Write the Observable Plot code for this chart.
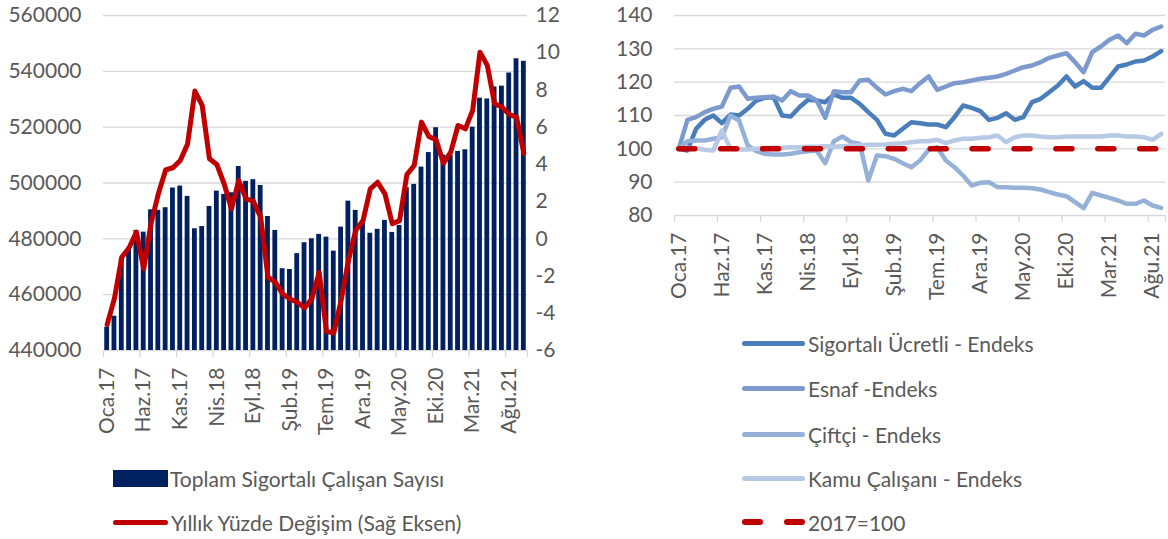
<!DOCTYPE html>
<html><head><meta charset="utf-8">
<script src="https://cdn.jsdelivr.net/npm/d3@7"></script>
<script src="https://cdn.jsdelivr.net/npm/@observablehq/plot@0.6"></script>
<style>
body{margin:0;background:#fff;font-family:Lato,sans-serif;}
#wrap{position:relative;width:1168px;height:539px;overflow:hidden;background:#fff}
.chart{position:absolute;top:0}
.leg{position:absolute;display:flex;align-items:center;height:30px;font-size:21px;color:#595959;white-space:nowrap;font-family:Lato,sans-serif}
.sw{display:inline-block;border-radius:3px}
</style></head><body><div id="wrap"></div>
<script>
// ---------- DATA ----------
const monthNames = ["Oca","Şub","Mar","Nis","May","Haz","Tem","Ağu","Eyl","Eki","Kas","Ara"];
const yearLabels = ["17","18","19","20","21"];
// Left panel: Oca.17 – Eki.21 (58 months)
const totalInsured = [448350,452300,473000,476500,483000,482400,490400,490200,491150,498200,
  498900,495200,483600,484400,491600,497100,495900,496500,505900,500600,
  501200,499100,488000,483000,469300,469000,474700,478600,480000,481600,
  480600,475600,484200,493500,490200,486000,482000,483400,486600,482300,
  484800,498300,499500,505700,510900,519800,510000,509900,511300,511900,
  520000,530400,530100,534400,534700,539400,544500,543600];
const annualChange = [-4.61,-3.2,-0.99,-0.48,0.36,-1.61,0.81,2.42,3.7,3.82,
  4.21,5.1,7.94,7.17,4.3,4.0,2.96,1.61,3.13,2.15,
  2.02,1.16,-2.06,-2.33,-2.96,-3.23,-3.41,-3.71,-3.23,-1.8,
  -4.97,-5.06,-3.32,-1.17,0.45,0.98,2.69,3.04,2.42,0.81,
  0.98,3.45,3.94,6.27,5.5,5.32,4.06,4.66,6.09,5.91,
  6.9,10.03,9.32,7.26,7.08,6.68,6.54,4.6];
// Right panel: Oca.17 – Eyl.21 (57 months), 2017=100
const ucretli = [100,99.5,106,108.7,110,107.7,110.3,110,112,114.5,
  115.3,115.5,110,109.7,112.5,114.7,114.5,114,116.3,115.3,
  115.3,113.5,111,108.7,104.5,104,106,108,107.7,107.3,
  107.3,106.5,109.5,113,112.3,111.3,108.7,109.3,110.7,108.7,
  109.5,114,115,117,119,121.7,118.7,120.3,118.3,118.3,
  121.5,124.7,125.3,126.2,126.5,127.7,129.3];
const esnaf = [100,108.7,109.5,111,112,112.7,118.3,118.7,115,115.3,
  115.5,115.7,114.5,117.3,116,116,114.5,109.3,117.3,117,
  117,120.5,120.7,118.3,116.3,117.3,118,117.3,119.7,121.7,
  117.7,118.7,119.7,120,120.5,121,121.3,121.7,122.5,123.5,
  124.5,125,126,127.3,128,128.7,126,123,129,130.7,
  132.7,134,131.7,134.5,134,135.7,136.7];
const ciftci = [100,102.3,102.5,102.5,103,103.5,110,108.5,101,99.3,
  98.5,98.3,98.3,98.5,99,99.3,99.5,95.7,102.3,103.7,
  102,101.5,90.5,98,97.8,97,95.7,94.5,96.5,99.7,
  100.5,96.5,94.5,92,89,89.8,90,88.5,88.5,88.3,
  88.3,88.2,87.8,87,86.3,85.8,84,82.2,86.8,86,
  85.3,84.5,83.5,83.5,84.5,83,82.3];
const kamu = [100,100.3,100.2,99.7,99.5,105.5,100,99.8,99.8,100,
  100.2,100.3,100.3,100.5,100.5,100.6,100.6,100.8,100.6,100.8,
  101,101,101.2,101.2,101.3,101.5,101.7,102,102.3,102.3,
  102.7,101.7,102.5,103,103,103.3,103.5,104,102,103.5,
  104,104,103.7,103.5,103.5,103.7,103.7,103.7,103.7,103.7,
  104,104,103.7,103.7,103.5,102.7,104.5];
const baseValue = 100;
const leftTicks = [440000,460000,480000,500000,520000,540000,560000];
const rightTicks = [-6,-4,-2,0,2,4,6,8,10,12];
const indexTicks = [80,90,100,110,120,130,140];
const seriesNames = ["Sigortalı Ücretli - Endeks","Esnaf -Endeks","Çiftçi - Endeks","Kamu Çalışanı - Endeks","2017=100"];
const leftNames = ["Toplam Sigortalı Çalışan Sayısı","Yıllık Yüzde Değişim (Sağ Eksen)"];
const colors = {navy:"#002060", red:"#C00000", ucretli:"#4A7EBB", esnaf:"#7C9ACD", ciftci:"#95B1D8", kamu:"#B7C9E5", grid:"#D9D9D9", text:"#595959"};

// ---------- BUILD ----------
const months = [];
for (const y of yearLabels) for (const m of monthNames) months.push(m + "." + y);
const leftRows = totalInsured.map((v,i)=>({i, label: months[i], total: v, pct: annualChange[i]}));
const rightRows = ucretli.map((v,i)=>({i, label: months[i], ucretli: v, esnaf: esnaf[i], ciftci: ciftci[i], kamu: kamu[i], base: baseValue}));
const labelIdx = d3.range(0, 58, 5);
const style = {fontFamily:"Lato, sans-serif", fontSize:"21px", color: colors.text, background:"white", overflow:"visible"};

const yMin = leftTicks[0], yMax = leftTicks[leftTicks.length-1];
const rMin = rightTicks[0], rMax = rightTicks[rightTicks.length-1];
const toLeft = v => yMin + (v - rMin) * (yMax - yMin) / (rMax - rMin);
const fromLeft = v => Math.round(rMin + (v - yMin) * (rMax - rMin) / (yMax - yMin));

const left = Plot.plot({
  width: 590, height: 440,
  marginLeft: 103, marginRight: 63, marginTop: 15, marginBottom: 90,
  style,
  x: {type: "linear", domain: [-0.5, leftRows.length - 0.5]},
  y: {domain: [yMin, yMax]},
  marks: [
    Plot.ruleY(leftTicks, {stroke: colors.grid, strokeWidth: 1.3}),
    Plot.rect(leftRows, {x1: d => d.i - 0.33, x2: d => d.i + 0.33, y1: yMin, y2: "total", fill: colors.navy}),
    Plot.axisX({ticks: [...d3.range(-0.5, leftRows.length - 1, 5), leftRows.length - 0.5], tickSize: 7, tickFormat: () => "", stroke: colors.grid, strokeWidth: 1.3, label: null}),
    Plot.axisX({ticks: labelIdx, tickSize: 0, tickRotate: -90, tickPadding: 17, tickFormat: i => months[i], label: null, fill: colors.text}),
    Plot.axisY({ticks: leftTicks, tickSize: 0, tickPadding: 22, tickFormat: d => String(d), label: null, fill: colors.text}),
    Plot.axisY({anchor: "right", ticks: rightTicks.map(toLeft), tickSize: 0, tickPadding: 8, tickFormat: v => String(fromLeft(v)), label: null, fill: colors.text}),
    Plot.line(leftRows, {x: "i", y: d => toLeft(d.pct), stroke: colors.red, strokeWidth: 5, strokeLinejoin: "round", strokeLinecap: "round"})
  ]
});

const right = Plot.plot({
  width: 578, height: 310,
  marginLeft: 84, marginRight: 3, marginTop: 15, marginBottom: 95,
  style,
  x: {type: "linear", domain: [-0.5, rightRows.length - 0.5]},
  y: {domain: [indexTicks[0], indexTicks[indexTicks.length-1]]},
  marks: [
    Plot.ruleY(indexTicks, {stroke: colors.grid, strokeWidth: 1.3}),
    Plot.axisX({ticks: [...d3.range(-0.5, rightRows.length - 1, 5), rightRows.length - 0.5], tickSize: 7, tickFormat: () => "", stroke: colors.grid, strokeWidth: 1.3, label: null}),
    Plot.axisX({ticks: labelIdx.filter(i => i < rightRows.length), tickSize: 0, tickRotate: -90, tickPadding: 17, tickFormat: i => months[i], label: null, fill: colors.text}),
    Plot.axisY({ticks: indexTicks, tickSize: 0, tickPadding: 22, label: null, fill: colors.text}),
    Plot.line(rightRows, {x: "i", y: "ucretli", stroke: colors.ucretli, strokeWidth: 4.5, strokeLinejoin: "round", strokeLinecap: "round"}),
    Plot.line(rightRows, {x: "i", y: "esnaf", stroke: colors.esnaf, strokeWidth: 4.5, strokeLinejoin: "round", strokeLinecap: "round"}),
    Plot.line(rightRows, {x: "i", y: "ciftci", stroke: colors.ciftci, strokeWidth: 4.5, strokeLinejoin: "round", strokeLinecap: "round"}),
    Plot.line(rightRows, {x: "i", y: "kamu", stroke: colors.kamu, strokeWidth: 4.5, strokeLinejoin: "round", strokeLinecap: "round"}),
    Plot.line(rightRows, {x: "i", y: "base", stroke: colors.red, strokeWidth: 5.5, strokeDasharray: "16,25.9", strokeLinecap: "round"})
  ]
});

const wrap = document.getElementById("wrap");
left.classList.add("chart"); left.style.left = "0px";
right.classList.add("chart"); right.style.left = "590px";
wrap.appendChild(left); wrap.appendChild(right);

function legendItem(x, yc, swatchHtml, text) {
  const d = document.createElement("div");
  d.className = "leg";
  d.style.left = x + "px"; d.style.top = (yc - 15) + "px";
  d.innerHTML = swatchHtml + "<span>" + text + "</span>";
  wrap.appendChild(d);
}
const lineSw = (c, w) => `<span class="sw" style="width:${w}px;height:5px;background:${c};margin-right:3px"></span>`;
legendItem(113, 478, `<span style="display:inline-block;width:55px;height:17px;background:${colors.navy};margin-right:2px"></span>`, leftNames[0]);
legendItem(113, 522, lineSw(colors.red, 55), leftNames[1]);
const swCols = [colors.ucretli, colors.esnaf, colors.ciftci, colors.kamu];
const ys = [343, 388, 434, 478, 522];
swCols.forEach((c, k) => legendItem(742, ys[k], lineSw(c, 63), seriesNames[k]));
legendItem(742, ys[4], `<span class="sw" style="width:21px;height:5.5px;background:${colors.red};margin-right:21px"></span><span class="sw" style="width:21px;height:5.5px;background:${colors.red};margin-right:3px"></span>`, seriesNames[4]);
</script></body></html>
